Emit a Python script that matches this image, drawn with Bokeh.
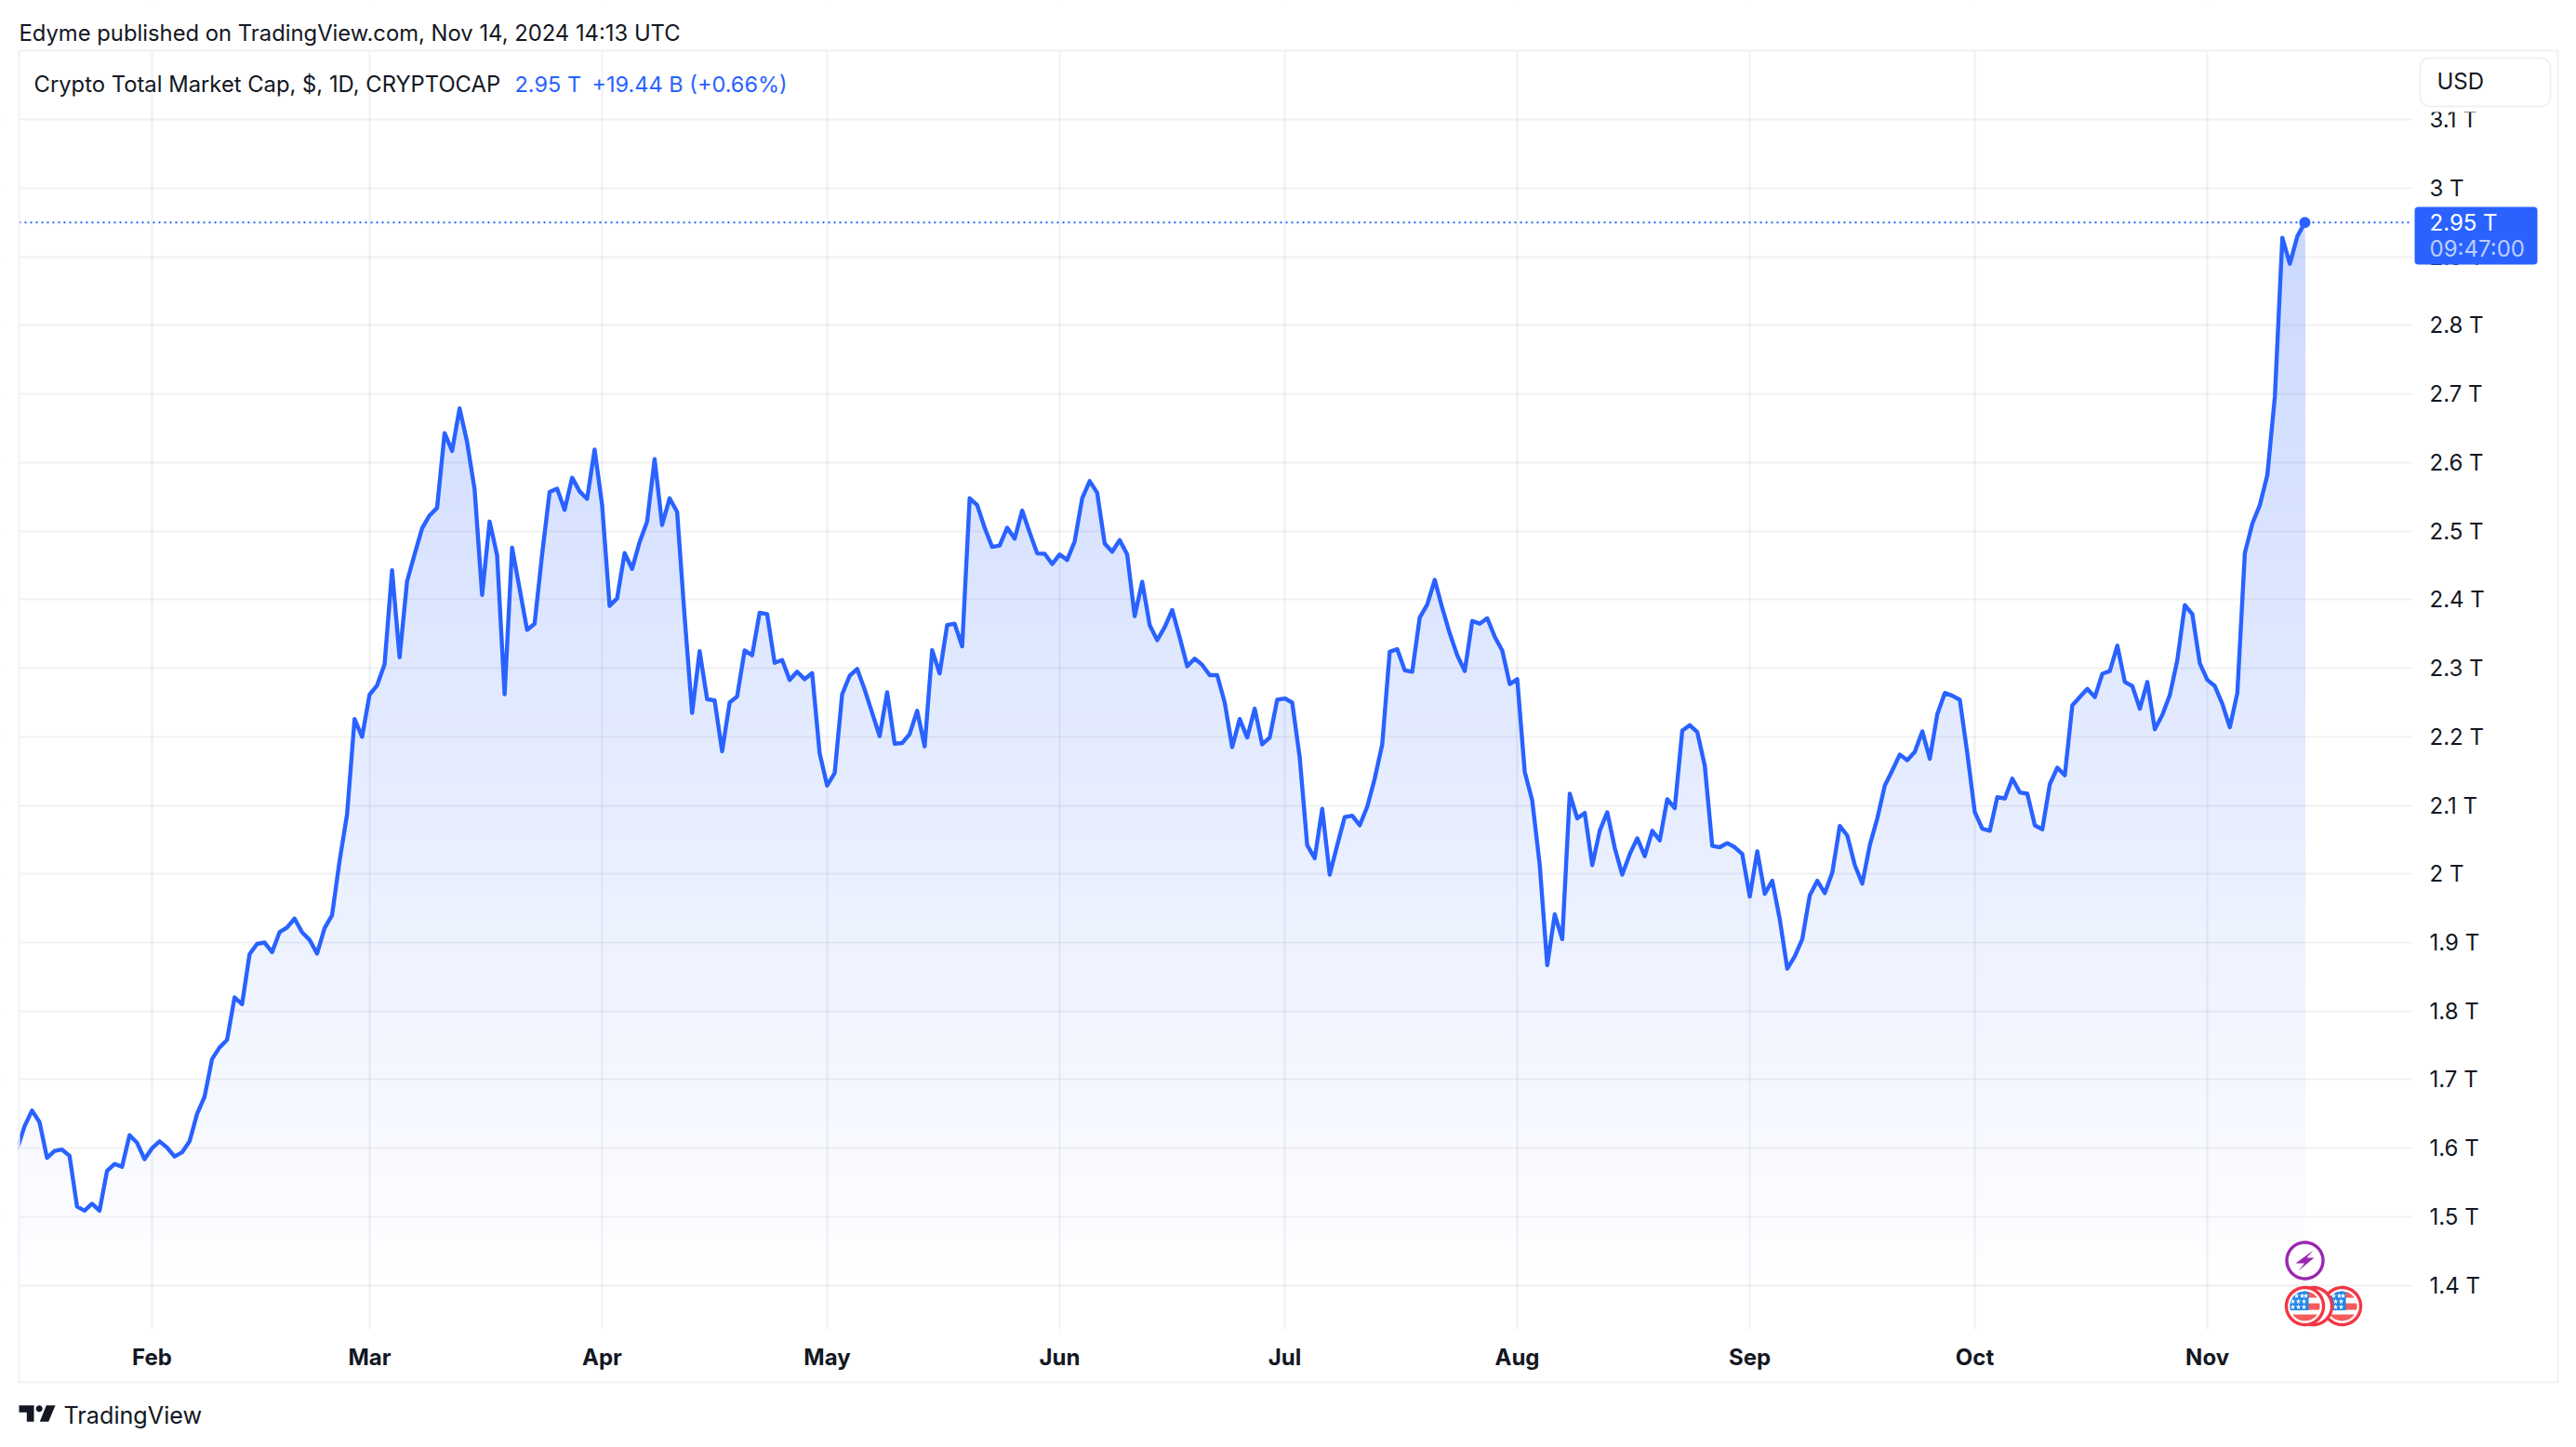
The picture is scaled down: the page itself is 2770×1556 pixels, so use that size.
import numpy as np
import pandas as pd
from bokeh.plotting import figure
from bokeh.embed import file_html
from bokeh.resources import INLINE
from bokeh.models import (Range1d, FixedTicker, Label, BoxAnnotation)

# ---- data: daily close of the total crypto market cap, in trillions of USD ----
jan = [1.598,1.632,1.655,1.638,1.586,1.596,1.598,1.589,1.515,1.509,1.519,1.509,1.567,1.577,1.573,1.619,1.608,1.584]
feb = [1.600,1.610,1.601,1.588,1.594,1.610,1.650,1.675,1.730,1.747,1.758,1.820,1.810,1.883,1.898,1.900,1.886,1.915,1.922,1.935,1.915,1.904,1.884,1.921,1.940,2.019,2.087,2.226,2.200]
mar = [2.2615,2.275,2.306,2.443,2.316,2.427,2.466,2.504,2.523,2.534,2.643,2.617,2.679,2.630,2.561,2.407,2.514,2.465,2.262,2.476,2.416,2.356,2.365,2.466,2.557,2.562,2.531,2.578,2.558,2.547,2.619]
apr = [2.538,2.391,2.402,2.468,2.445,2.484,2.514,2.605,2.509,2.548,2.528,2.375,2.235,2.325,2.255,2.253,2.179,2.250,2.259,2.326,2.319,2.381,2.379,2.308,2.312,2.283,2.295,2.284,2.293,2.176]
may = [2.129,2.147,2.262,2.289,2.299,2.269,2.235,2.201,2.265,2.190,2.191,2.204,2.238,2.186,2.3265,2.2926,2.363,2.365,2.332,2.548,2.538,2.505,2.477,2.479,2.505,2.489,2.530,2.498,2.4675,2.467,2.452]
jun = [2.466,2.458,2.485,2.548,2.573,2.556,2.482,2.470,2.487,2.466,2.376,2.426,2.363,2.341,2.360,2.385,2.345,2.303,2.314,2.305,2.290,2.290,2.250,2.185,2.226,2.199,2.241,2.189,2.199,2.254]
jul = [2.256,2.250,2.170,2.042,2.023,2.095,1.999,2.042,2.083,2.085,2.071,2.098,2.139,2.189,2.324,2.328,2.297,2.295,2.374,2.393,2.429,2.388,2.351,2.319,2.296,2.369,2.365,2.373,2.346,2.326,2.277]
aug = [2.284,2.149,2.107,2.013,1.867,1.941,1.905,2.117,2.081,2.089,2.013,2.063,2.090,2.038,1.999,2.029,2.052,2.026,2.063,2.049,2.109,2.096,2.209,2.217,2.207,2.158,2.041,2.039,2.045,2.039,2.029]
sep = [1.967,2.033,1.971,1.990,1.934,1.862,1.880,1.905,1.969,1.990,1.972,2.002,2.070,2.056,2.013,1.986,2.042,2.081,2.129,2.151,2.174,2.166,2.178,2.208,2.168,2.233,2.264,2.260,2.254,2.176]
oct_ = [2.090,2.066,2.063,2.112,2.110,2.139,2.119,2.117,2.071,2.065,2.131,2.155,2.144,2.246,2.258,2.270,2.258,2.292,2.296,2.333,2.280,2.274,2.241,2.280,2.211,2.232,2.261,2.312,2.392,2.379,2.307]
nov = [2.283,2.274,2.248,2.214,2.264,2.468,2.511,2.538,2.582,2.696,2.928,2.890,2.930,2.950]
month_ticks = ["2024-02-01","2024-03-01","2024-04-01","2024-05-01","2024-06-01","2024-07-01","2024-08-01","2024-09-01","2024-10-01","2024-11-01"]
month_labels = ["Feb","Mar","Apr","May","Jun","Jul","Aug","Sep","Oct","Nov"]
price_ticks = [1.4,1.5,1.6,1.7,1.8,1.9,2.0,2.1,2.2,2.3,2.4,2.5,2.6,2.7,2.8,2.9,3.0,3.1]
price_labels = ["1.4 T","1.5 T","1.6 T","1.7 T","1.8 T","1.9 T","2 T","2.1 T","2.2 T","2.3 T","2.4 T","2.5 T","2.6 T","2.7 T","2.8 T","2.9 T","3 T","3.1 T"]

values = np.array(jan+feb+mar+apr+may+jun+jul+aug+sep+oct_+nov)
dates = pd.date_range("2024-01-14", periods=len(values), freq="D")
DAY = 86400000.0
xs = dates.astype("datetime64[ms]").astype("int64").to_numpy().astype(float)
tick_ms = [float(pd.Timestamp(t).value // 1000000) for t in month_ticks]

# ---- layout in reference pixels: the frame fills the canvas, the chart pane is an inner region ----
FL, FR, FT, FB = 20, 2594, 54, 1429
OUT_R, OUT_B = 2750, 1486
W, H = 2760, 1550
PX_DAY = 8.066
FEB_PX = 163
INK = "#131722"
BLUE = "#2962ff"
BORDER = "#eff1f6"
FONT = "Inter"

Y3, PX_T = 202.0, 737.3
y_at = lambda py: 3.0 + (Y3-py)/PX_T
x_at = lambda px: tick_ms[0] + (px-FEB_PX)/PX_DAY*DAY

p = figure(width=W, height=H, output_backend="svg", toolbar_location=None,
           x_range=Range1d(x_at(0), x_at(W)), y_range=Range1d(y_at(H), y_at(0)),
           x_axis_location="below", y_axis_location="right",
           min_border=0,
           background_fill_color="white", border_fill_color="white", outline_line_color=None)

# axes and grid
ya = p.yaxis[0]; xa = p.xaxis[0]
ya.ticker = FixedTicker(ticks=price_ticks)
ya.major_label_overrides = dict(zip(price_ticks, price_labels))
xa.ticker = FixedTicker(ticks=tick_ms)
xa.major_label_overrides = dict(zip(tick_ms, month_labels))
for a in (xa, ya):
    a.axis_line_color = None
    a.major_tick_line_color = None
    a.minor_tick_line_color = None
    a.major_label_text_font = FONT
    a.major_label_text_color = INK
    a.major_label_text_font_size = "24px"
ya.major_label_standoff = 2606-W
xa.major_label_standoff = 1438-H
xa.major_label_text_font_style = "bold"
p.xgrid.ticker = FixedTicker(ticks=tick_ms)
p.ygrid.ticker = FixedTicker(ticks=price_ticks)
for g in (p.xgrid, p.ygrid):
    g.grid_line_color = "#2a2e39"
    g.grid_line_alpha = 0.065
    g.grid_line_width = 2

def box(l, t, r, b, fill=None, line=None, lw=2, radius=0, level="annotation"):
    p.add_layout(BoxAnnotation(left=x_at(l), right=x_at(r), top=y_at(t), bottom=y_at(b),
                               fill_color=fill, fill_alpha=1.0 if fill else 0.0, line_color=line, line_alpha=1.0,
                               line_width=lw, border_radius=radius, level=level, editable=False))

# white surrounds so that the grid stays inside the chart pane
box(FR, 0, W, H, fill="white", level="underlay")
box(0, FB, W, H, fill="white", level="underlay")
box(0, 0, W, FT, fill="white", level="underlay")

# gradient area: opaque bands painted from the top of the gradient downwards
G_TOP, G_BOT = 239, 1400
for py in range(G_TOP, FB, 8):
    t = min(1.0, (py+4-G_TOP)/(G_BOT-G_TOP))
    a = 0.245*(1-t)
    col = "#%02x%02x%02x" % tuple(int(round(255-(255-c)*a)) for c in (0x29,0x62,0xff))
    hi = y_at(py)
    lo = y_at(FB)
    p.varea(xs, y1=np.full_like(values, lo), y2=np.clip(values, lo, hi), fill_color=col, level="image")

# dotted last price line, series, end marker
p.line([x_at(FL), x_at(2590)], [values[-1], values[-1]], line_color=BLUE, line_width=2, line_dash="2 4")
p.line(xs, values, line_color=BLUE, line_width=4.4, line_join="round")
p.scatter(xs[-1:], values[-1:], size=12, marker="circle", fill_color=BLUE, line_color=None)

# ---- event icons ----
def disc(cx, cy, r, fill, line=None, lw=0):
    t = np.linspace(0, 2*np.pi, 72)
    p.patch(x_at(cx+r*np.cos(t)), y_at(cy+r*np.sin(t)), fill_color=fill, line_color=line, line_width=lw)

def flag(cx, cy):
    disc(cx, cy, 20, "white", "#f23645", 3.4)
    R = 16
    for a, b in ((-16, -9), (-3, 4), (9, 16)):
        yy = np.linspace(a, b, 12)
        dx = np.sqrt(np.maximum(R*R-yy*yy, 0))
        px_ = np.r_[cx-dx, (cx+dx)[::-1]]; py_ = np.r_[cy+yy, (cy+yy)[::-1]]
        p.patch(x_at(px_), y_at(py_), fill_color="#f45b5b", line_color=None)
    yy = np.linspace(-16, 4.5, 16)
    dx = np.sqrt(np.maximum(R*R-yy*yy, 0))
    right = np.minimum(cx+dx, cx+4)
    px_ = np.r_[cx-dx, right[::-1]]; py_ = np.r_[cy+yy, (cy+yy)[::-1]]
    p.patch(x_at(px_), y_at(py_), fill_color="#2186e8", line_color=None)
    sx_ = [cx-9, cx-3, cx+1, cx-13, cx-7, cx-1, cx-13, cx-7, cx-1]
    sy_ = [cy-11, cy-11, cy-11, cy-5, cy-5, cy-5, cy+1, cy+1, cy+1]
    p.scatter(x_at(np.array(sx_)), y_at(np.array(sy_)), marker="star", size=6, fill_color="white", line_color=None)

disc(2478, 1355, 19.5, "white", "#9c27b0", 3.4)
bolt_x = np.array([2487, 2468, 2477.5, 2471, 2488, 2480])
bolt_y = np.array([1344, 1358, 1358, 1366, 1352, 1352])
p.patch(x_at(bolt_x), y_at(bolt_y), fill_color="#9c27b0", line_color=None)
flag(2518, 1404)
disc(2487, 1404, 20, "white", "#f23645", 3.4)
flag(2478, 1404)

# ---- header, badges, footer ----
def text(x, y, s, color=INK, size=24.0, align="left", alpha=1.0, style="normal"):
    p.add_layout(Label(x=x_at(x), y=y_at(y), text=s, text_color=color,
                       text_alpha=alpha, text_font=FONT, text_font_size=f"{size}px", text_font_style=style,
                       text_align=align, text_baseline="middle", level="overlay"))

box(0, 0, FL-1, H, fill="white")              # pane's left edge hides the partial first day
box(FL, FT, OUT_R, OUT_B, line=BORDER, lw=2)
text(20, 35, "Edyme published on TradingView.com, Nov 14, 2024 14:13 UTC", size=23.8)
text(36, 90, "Crypto Total Market Cap, $, 1D, CRYPTOCAP", size=23.8)
text(553, 90, "2.95 T", color=BLUE, size=23.5)
text(636, 90, "+19.44 B (+0.66%)", color=BLUE, size=23.5)
box(2602, 62, 2742, 120, fill="white")
box(2602, 62, 2742, 114, fill="white", line=BORDER, lw=2, radius=10)
text(2620, 87, "USD")
box(2596, 222, 2728, 284, fill=BLUE, radius=4)
text(2612, 239, "2.95 T", color="white")
text(2612, 267, "09:47:00", color="white", alpha=0.7)

# logo
p.patch(x_at(np.array([20, 36, 36, 28.3, 28.3, 20])), y_at(np.array([1510.7, 1510.7, 1528.3, 1528.3, 1518.3, 1518.3])), fill_color=INK, line_color=None)
t_ = np.linspace(0, 2*np.pi, 32)
p.patch(x_at(41.7+3.5*np.cos(t_)), y_at(1514.3+3.5*np.sin(t_)), fill_color=INK, line_color=None)
p.patch(x_at(np.array([49.3, 59, 51.7, 42.3])), y_at(np.array([1510.7, 1510.7, 1528.3, 1528.3])), fill_color=INK, line_color=None)
text(68, 1521, "TradingView", size=25.2)

open("out.html", "w").write(file_html(p, INLINE))
